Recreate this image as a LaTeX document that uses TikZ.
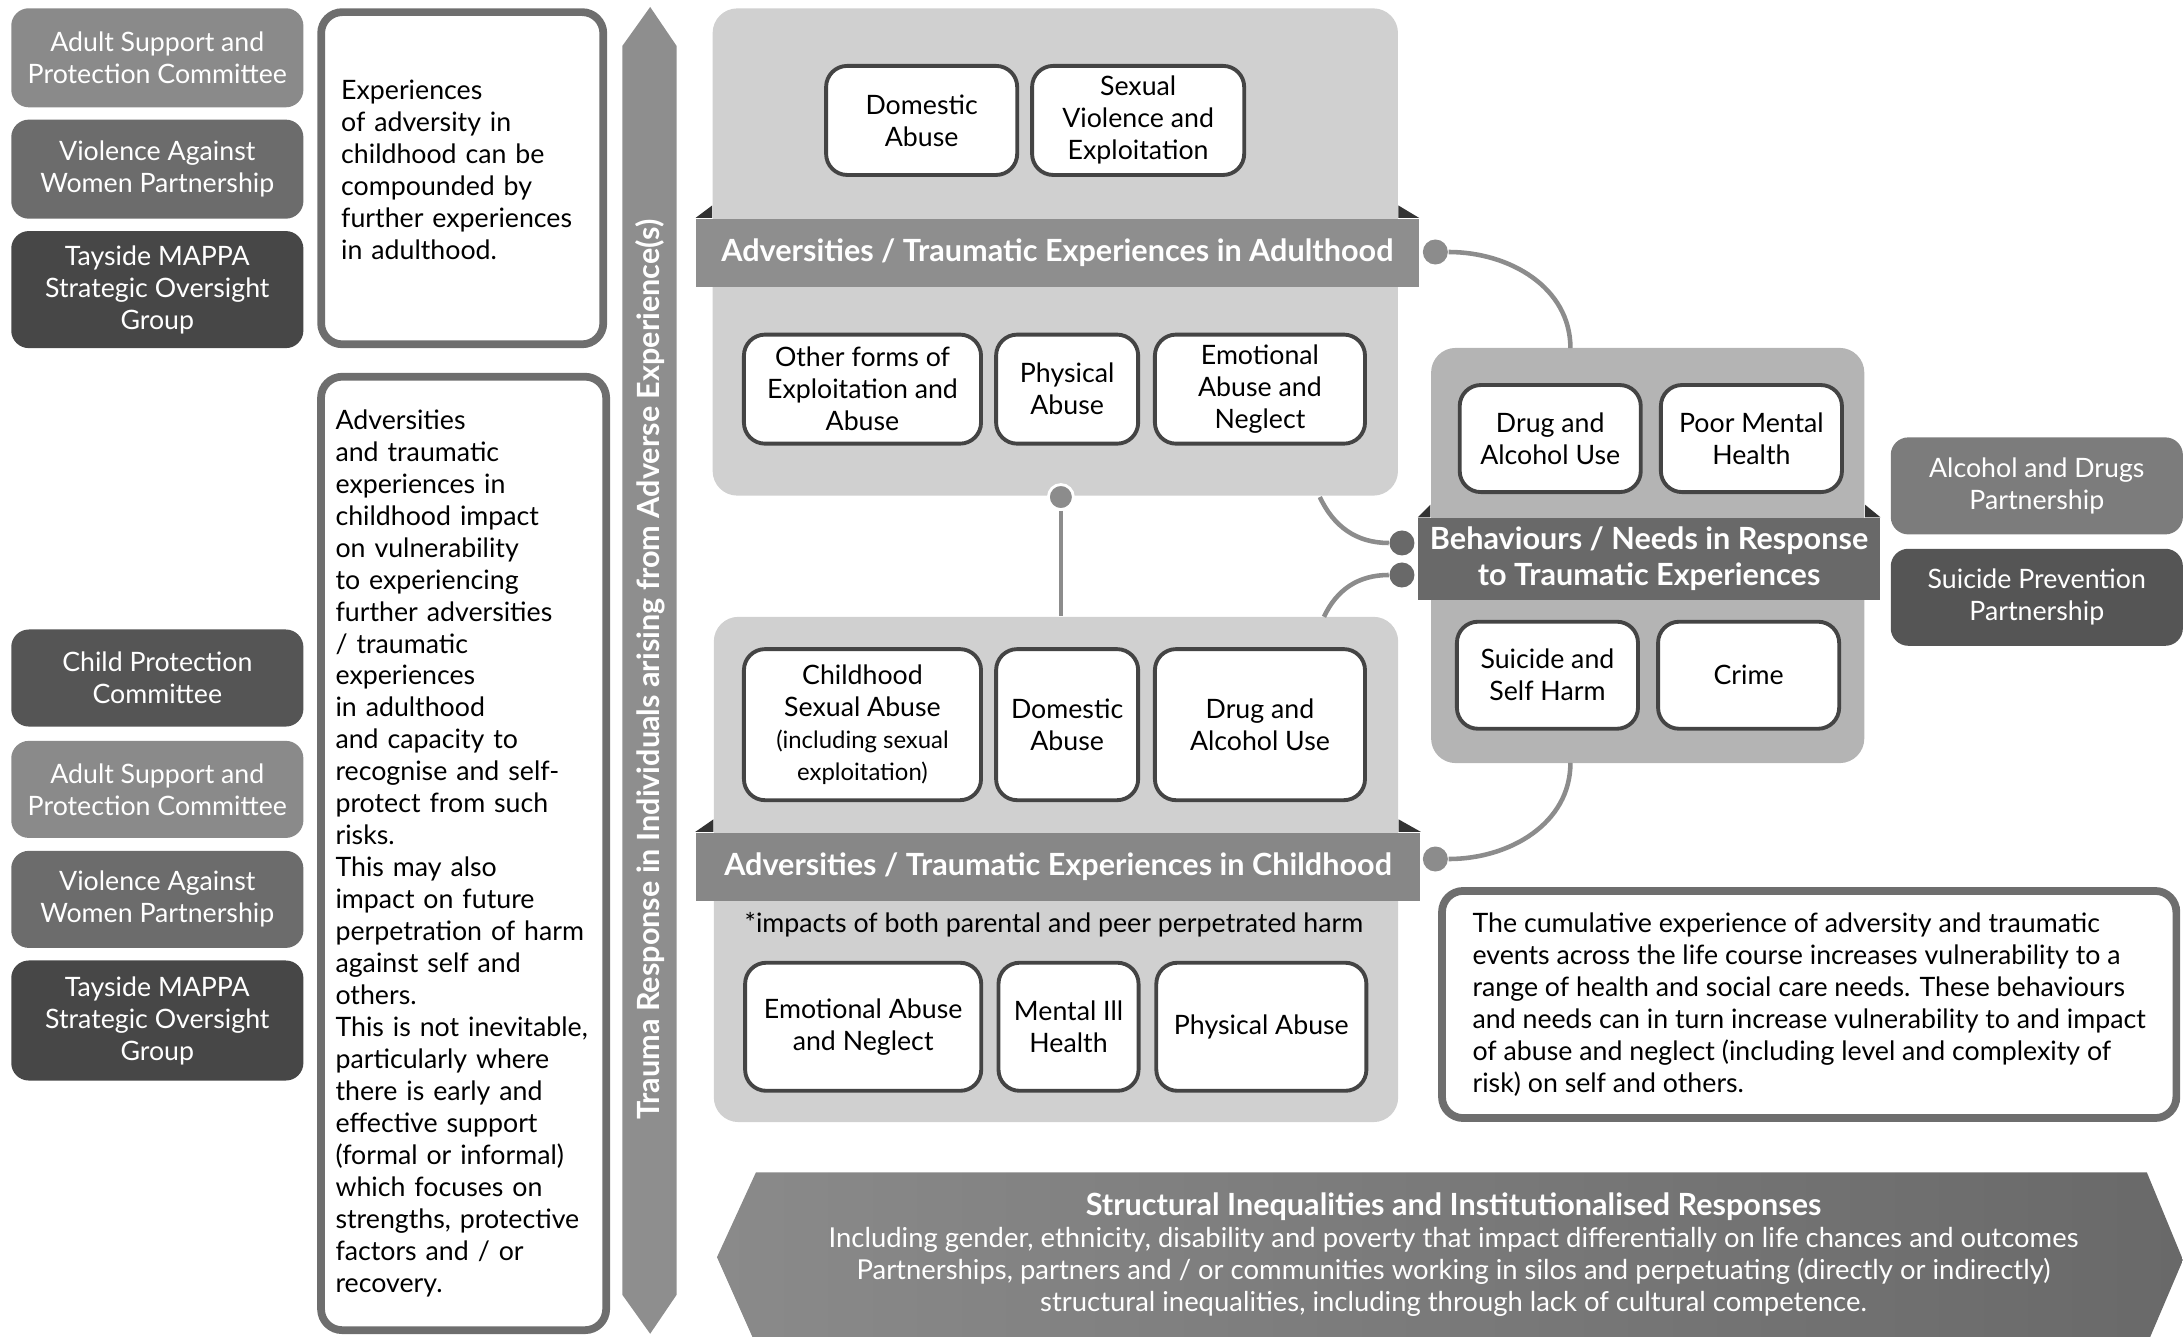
\documentclass[tikz,border=0pt]{standalone}
\usepackage{fontspec}
\setmainfont{Lato}
\usepackage{tikz}
\usetikzlibrary{positioning, calc}
\definecolor{panelGrey}{HTML}{D0D0D0}
\definecolor{behavGrey}{HTML}{B4B4B4}
\definecolor{ribbonGrey}{HTML}{8E8E8E}
\definecolor{ribbonDark}{HTML}{696969}
\definecolor{orgLight}{HTML}{8A8A8A}
\definecolor{orgMid}{HTML}{6C6C6C}
\definecolor{orgSlate}{HTML}{555555}
\definecolor{orgDark}{HTML}{474747}
\definecolor{linkGrey}{HTML}{8C8C8C}
\definecolor{frameGrey}{HTML}{6E6E6E}
\definecolor{itemLine}{HTML}{444444}
\newcommand{\bodysize}{\fontsize{7.6}{9.1}\selectfont}
\newcommand{\barsize}{\fontsize{8.7}{10.2}\selectfont}
\hyphenpenalty=10000
\exhyphenpenalty=10000

\begin{document}
\begin{tikzpicture}[
  x=0.01392cm, y=-0.01392cm,
  org/.style={rectangle, rounded corners=5pt, text=white,
              align=center, font=\bodysize, inner sep=0pt,
              minimum width=2.92cm},
  panel/.style={rectangle, rounded corners=7pt, inner sep=0pt},
  ribbon/.style={rectangle, text=white, font=\barsize\bfseries,
                 align=center, inner sep=0pt},
  item/.style={rectangle, rounded corners=6pt, draw=itemLine,
               line width=1.1pt, fill=white, align=center,
               font=\bodysize, inner sep=1pt},
  note/.style={rectangle, rounded corners=6pt, draw=frameGrey,
               line width=2.2pt, fill=white, align=left,
               font=\bodysize, inner sep=0pt},
  dot/.style={circle, inner sep=0pt, minimum size=0.25cm},
  link/.style={draw=linkGrey, line width=1.3pt},
  fold/.style={fill=black!80}
]
  \useasboundingbox (0,0) rectangle (1568,960);

  %% Partnerships (left)
  \node[org, fill=orgLight, minimum height=0.99cm] (asp1) at (113, 41.5) {Adult Support and\\Protection Committee};
  \node[org, fill=orgMid,   minimum height=0.99cm] (vaw1) at (113,121.5) {Violence Against\\Women Partnership};
  \node[org, fill=orgDark,  minimum height=1.17cm] (mappa1) at (113,208) {Tayside MAPPA\\Strategic Oversight\\Group};
  \node[org, fill=orgSlate, minimum height=0.97cm] (cpc) at (113,487) {Child Protection\\Committee};
  \node[org, fill=orgLight, minimum height=0.97cm] (asp2) at (113,567) {Adult Support and\\Protection Committee};
  \node[org, fill=orgMid,   minimum height=0.97cm] (vaw2) at (113,646) {Violence Against\\Women Partnership};
  \node[org, fill=orgDark,  minimum height=1.20cm] (mappa2) at (113,733) {Tayside MAPPA\\Strategic Oversight\\Group};

  %% Explanatory notes (left)
  \node[note, minimum width=2.82cm, minimum height=3.32cm, text width=2.42cm] (compound) at (332,128)
    {Experiences\\of adversity in\\childhood can be\\compounded by\\further experiences\\in adulthood.\\[-0.55em]\mbox{}};
  \node[note, minimum width=2.85cm, minimum height=9.53cm, text width=2.56cm] (impact) at (333,613)
    {Adversities\\and traumatic\\experiences in\\childhood impact\\on vulnerability\\to experiencing\\further adversities\\
     / traumatic\\experiences\\in adulthood\\and capacity to\\recognise and self-\\protect from such\\risks.\\
     This may also\\impact on future\\perpetration of harm\\against self and\\others.\\
     This is not inevitable,\\particularly where\\there is early and\\effective support\\(formal or informal)\\
     which focuses on\\strengths, protective\\factors and / or\\recovery.};

  %% Trauma response arrow
  \fill[ribbonGrey] (447,33) -- (467,5) -- (486,33) -- (486,930) -- (467,958) -- (447,930) -- cycle;
  \node[font=\barsize\bfseries, text=white, rotate=90] (trauma) at (467,481)
    {Trauma Response in Individuals arising from Adverse Experience(s)};

  %% Adulthood
  \node[panel, fill=panelGrey, minimum width=6.85cm, minimum height=4.87cm] (adult) at (758,181) {};
  \node[ribbon, fill=ribbonGrey, minimum width=7.22cm, minimum height=0.68cm] (adultbar) at (759.5,181.5)
    {Adversities / Traumatic Experiences in Adulthood};
  \fill[fold] (adultbar.north west) -- ++(12,0) -- ++(0,-9) -- cycle;
  \fill[fold] (adultbar.north east) -- ++(-15,0) -- ++(0,-9) -- cycle;
  \node[item, minimum width=1.91cm, minimum height=1.09cm] (da) at (662,86.5) {Domestic\\Abuse};
  \node[item, minimum width=2.12cm, minimum height=1.09cm] (sv) at (817.5,86.5) {Sexual\\Violence and\\Exploitation};
  \node[item, minimum width=2.37cm, minimum height=1.09cm] (ofa) at (619.5,279.5) {Other forms of\\Exploitation and\\Abuse};
  \node[item, minimum width=1.42cm, minimum height=1.09cm] (pa) at (766.5,279.5) {Physical\\Abuse};
  \node[item, minimum width=2.10cm, minimum height=1.09cm] (ean) at (905,279.5) {Emotional\\Abuse and\\Neglect};

  %% Childhood
  \node[panel, fill=panelGrey, minimum width=6.84cm, minimum height=5.05cm] (child) at (758.5,624.5) {};
  \node[ribbon, fill=ribbonGrey!95!black, minimum width=7.24cm, minimum height=0.68cm] (childbar) at (760,622.5)
    {Adversities / Traumatic Experiences in Childhood};
  \fill[fold] (childbar.north west) -- ++(13,0) -- ++(0,-9) -- cycle;
  \fill[fold] (childbar.north east) -- ++(-16,0) -- ++(0,-9) -- cycle;
  \node[item, minimum width=2.37cm, minimum height=1.51cm] (csa) at (619.5,520.5)
    {Childhood\\Sexual Abuse\\{\fontsize{6.8}{8.2}\selectfont (including sexual}\\{\fontsize{6.8}{8.2}\selectfont exploitation)}};
  \node[item, minimum width=1.42cm, minimum height=1.51cm] (cda) at (766.5,520.5) {Domestic\\Abuse};
  \node[item, minimum width=2.10cm, minimum height=1.51cm] (cdu) at (905,520.5) {Drug and\\Alcohol Use};
  \node[font=\bodysize] (peer) at (757,664) {*impacts of both parental and peer perpetrated harm};
  \node[item, minimum width=2.36cm, minimum height=1.28cm] (cea) at (620,737.5) {Emotional Abuse\\and Neglect};
  \node[item, minimum width=1.40cm, minimum height=1.28cm] (cmi) at (767.5,737.5) {Mental Ill\\Health};
  \node[item, minimum width=2.10cm, minimum height=1.28cm] (cpa) at (906,737.5) {Physical Abuse};

  %% Behaviours / needs
  \node[panel, fill=behavGrey, minimum width=4.33cm, minimum height=4.15cm] (behav) at (1183.5,399) {};
  \node[ribbon, fill=ribbonDark, minimum width=4.61cm, minimum height=0.82cm] (behavbar) at (1184.5,401.5)
    {Behaviours / Needs in Response\\to Traumatic Experiences};
  \fill[fold] (behavbar.north west) -- ++(9,0) -- ++(0,-9) -- cycle;
  \fill[fold] (behavbar.north east) -- ++(-11,0) -- ++(0,-9) -- cycle;
  \node[item, minimum width=1.81cm, minimum height=1.07cm] (bdu) at (1113.5,315) {Drug and\\Alcohol Use};
  \node[item, minimum width=1.81cm, minimum height=1.07cm] (bmh) at (1258,315) {Poor Mental\\Health};
  \node[item, minimum width=1.81cm, minimum height=1.07cm] (bsh) at (1111.5,485) {Suicide and\\Self Harm};
  \node[item, minimum width=1.81cm, minimum height=1.07cm] (bcr) at (1256,485) {Crime};

  %% Partnerships (right)
  \node[org, fill=orgLight!90!black, minimum height=0.97cm] (adp) at (1463,349) {Alcohol and Drugs\\Partnership};
  \node[org, fill=orgSlate, minimum height=0.97cm] (spp) at (1463,429) {Suicide Prevention\\Partnership};

  %% Cumulative note
  \node[note, minimum width=7.34cm, minimum height=2.27cm] (cumul) at (1299.5,721.5)
    {The cumulative experience of adversity and traumatic\\events across the life course increases vulnerability to a\\
     range of health and social care needs. These behaviours\\and needs can in turn increase vulnerability to and impact\\
     of abuse and neglect (including level and complexity of\\risk) on self and others.};

  %% Structural banner
  \shade[left color=orgLight, right color=ribbonDark]
    (515,903) -- (543,842) -- (1542,842) -- (1568,905) -- (1542,966) -- (543,966) -- cycle;
  \node[text=white, align=center, font=\fontsize{7.8}{9.1}\selectfont] (struct) at (1044,901)
    {{\barsize\bfseries Structural Inequalities and Institutionalised Responses}\\
     Including gender, ethnicity, disability and poverty that impact differentially on life chances and outcomes\\
     Partnerships, partners and / or communities working in silos and perpetuating (directly or indirectly)\\
     structural inequalities, including through lack of cultural competence.};

  %% Connectors
  \coordinate (btop) at (1128,250);
  \coordinate (bbot) at (1128,548);
  \coordinate (acorner) at (948,357);
  \coordinate (ccorner) at (951,443);
  \node[dot, fill=linkGrey, draw=white, line width=0.8pt] (d1) at (762,357) {};
  \node[dot, fill=linkGrey] (d2) at (1031,181) {};
  \node[dot, fill=linkGrey] (d4) at (1031,617) {};
  \node[dot, fill=ribbonDark] (d5) at (1007,390) {};
  \node[dot, fill=ribbonDark] (d6) at (1007,413) {};
  \draw[link] (d1) -- (d1 |- child.north);
  \draw[link] (d2) to[out=0, in=90] (btop);
  \draw[link] (bbot) to[out=-90, in=0] (d4);
  \draw[link] (acorner) to[out=-65, in=180] (d5);
  \draw[link] (d6) to[out=180, in=65] (ccorner);

\end{tikzpicture}
\end{document}
